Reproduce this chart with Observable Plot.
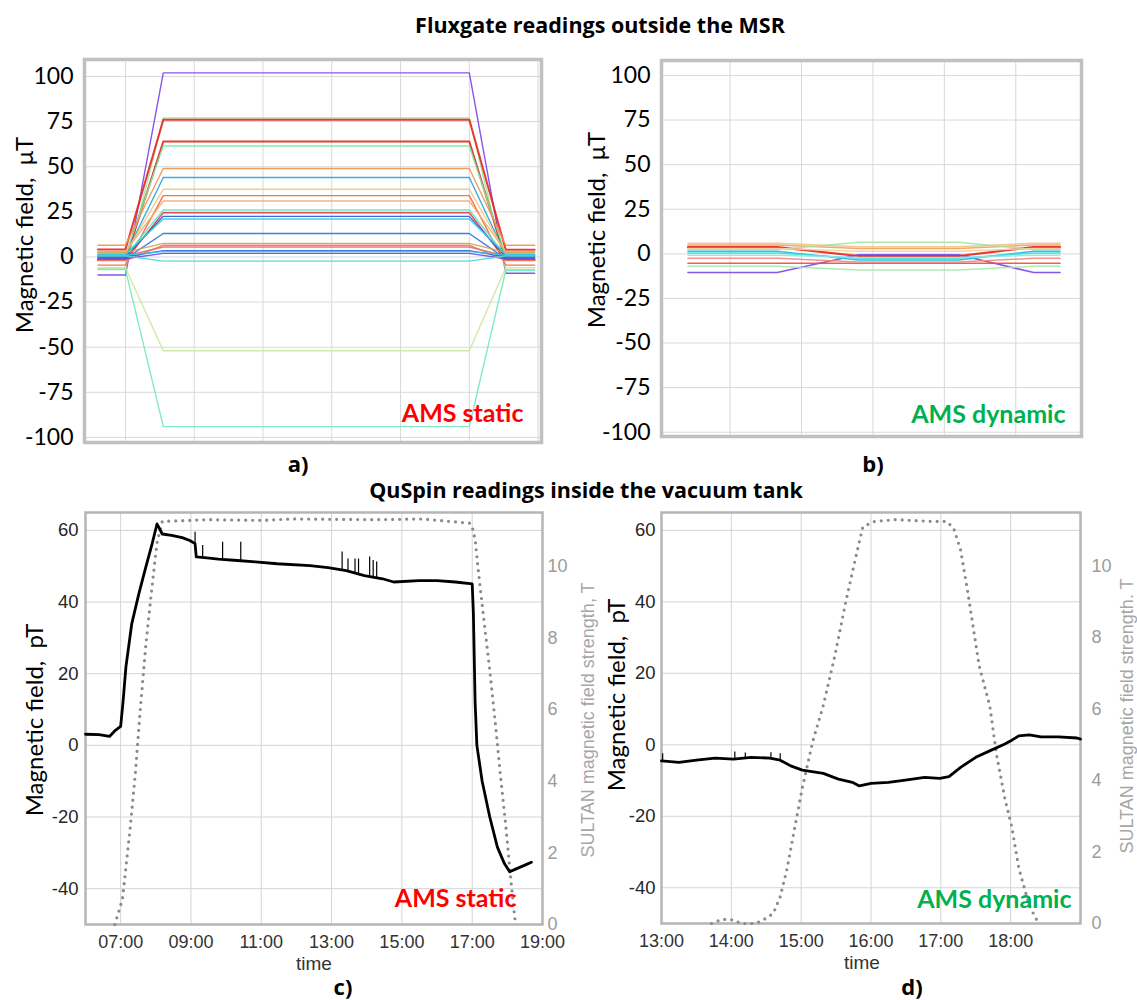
<!DOCTYPE html>
<html>
<head>
<meta charset="utf-8">
<script src="https://cdn.jsdelivr.net/npm/d3@7"></script>
<script src="https://cdn.jsdelivr.net/npm/@observablehq/plot@0.6"></script>
<style>
html,body{margin:0;padding:0;background:#fff;}
#fig{position:relative;width:1137px;height:1000px;background:#fff;overflow:hidden;}
.t{position:absolute;white-space:pre;transform:translate(-50%,-50%);line-height:1;}
.r{transform:translate(-50%,-50%) rotate(-90deg);}
.hd{font-family:"Open Sans";font-weight:700;font-size:21.5px;color:#000;}
.lt{font-family:"Open Sans";font-weight:700;font-size:22px;color:#000;}
.yt{font-family:Lato;font-size:24px;color:#000;}
.st{font-family:"Liberation Sans";font-size:18px;color:#a6a6a6;}
.p{position:absolute;}
</style>
</head>
<body>
<div id="fig">
  <div class="t hd" style="left:600px;top:25px">Fluxgate readings outside the MSR</div>
  <div class="t hd" style="left:586px;top:490px">QuSpin readings inside the vacuum tank</div>
  <div class="t yt r" style="left:24px;top:235px">Magnetic field,  μT</div>
  <div class="t yt r" style="left:596px;top:230px">Magnetic field,  μT</div>
  <div class="t yt r" style="left:34px;top:720px">Magnetic field,  pT</div>
  <div class="t yt r" style="left:616px;top:695px">Magnetic field,  pT</div>
  <div class="t st r" style="left:588px;top:720px">SULTAN magnetic field strength, T</div>
  <div class="t st r" style="left:1127px;top:716px">SULTAN magnetic field strength. T</div>
  <div class="t lt" style="left:298px;top:463px">a)</div>
  <div class="t lt" style="left:873px;top:463px">b)</div>
  <div class="t lt" style="left:343px;top:986px">c)</div>
  <div class="t lt" style="left:912px;top:986px">d)</div>
  <div class="p" id="pa" style="left:0px;top:50px"></div>
  <div class="p" id="pb" style="left:570px;top:50px"></div>
  <div class="p" id="pc" style="left:0px;top:500px"></div>
  <div class="p" id="pd" style="left:570px;top:500px"></div>
</div>
<script>
// ================= DATA =================
// Fluxgate (µT) tick values
const ticksFlux = [-100, -75, -50, -25, 0, 25, 50, 75, 100];

// Panel a (AMS static): run phases in grid units (before, ramp-up start, plateau start, plateau end, ramp-down end, end)
const knotsA = [0.6, 1.0, 1.55, 6.0, 6.53, 6.95];
const preA  = [-10, -6.5, 4.2, -1.5, 1.0, 6.5, 1.0, 2.0, -4.5, 3.0, 0.5, -1.8, 0.0, 1.5, -1.0, 2.5, -2.0, 0.5, 0.0, 1.0, -1.0, 0.5, -6.0, -7.0];
const flatA = [102, 77, 76, 64, 61.5, 49, 44, 37.5, 34, 31, 26, 24.5, 22.5, 21, 13, 7.5, 6.5, 5.5, 3.5, 3.0, 2.0, -2.3, -52, -94];
const postA = [-9, -7, 4.0, -1.5, 1.0, 6.5, 1.0, 2.0, -4.5, 3.0, 0.5, -1.8, 0.0, 1.5, -1.0, 2.5, -2.0, 0.5, 0.0, 1.0, -1.0, 0.5, -6.0, -7.5];
const colorsA = ["#7a45e6","#9be89b","#e8231f","#e0281e","#7ce8a6","#f0944a","#1fa7df","#f2c585","#f0663a","#f2ad6a","#5fe3c8","#e23a3a","#2f55dd","#2ccfe0","#2f6fdc","#c8a94e","#ee7a55","#e66a6a","#2a62d6","#36bfe6","#6a4bde","#46d9d4","#c9e89a","#74e8bf"];

// Panel b (AMS dynamic): phases (before, transition start, middle start, middle end, transition end, end)
const knotsB = [0.41, 1.66, 2.8, 4.2, 5.25, 5.62];
const leftB  = [-10.5, 3.8, -5.2, 6.0, 5.0, 2.5, -7.0, 1.5, 0.5, -0.8, -2.5, 3.0];
const midB   = [-0.5, -1.2, -5.2, 4.0, 3.0, 6.5, -9.0, -3.5, -2.5, -2.0, -4.5, 1.5];
const rightB = [-10.5, 3.8, -5.2, 6.0, 5.0, 2.5, -7.0, 1.5, 0.5, -0.8, -2.5, 3.0];
const colorsB = ["#7a45e6","#e8231f","#ef4a3a","#f2c08a","#f0a060","#9ee89e","#a6eaa6","#22b8e6","#3fded0","#8fe6ea","#f08a80","#f5d29a"];

// QuSpin (pT) and SULTAN (T) ticks
const ticksQ = [-40, -20, 0, 20, 40, 60];
const ticksSultan = [0, 2, 4, 6, 8, 10];

// Panel c (AMS static)
const timeC  = ["06:00","06:23","06:41","06:51","07:00","07:04","07:09","07:19","07:31","07:43","07:53","08:02","08:11","08:27","08:45","08:58","09:07","09:09","09:23","09:47","10:19","10:50","11:27","12:23","12:54","13:25","13:56","14:27","14:46","15:29","16:00","16:31","17:00","17:02","17:05","17:08","17:17","17:30","17:43","17:55","18:04","18:16","18:29","18:41"];
const fieldC = [3.1, 3.0, 2.5, 4.2, 5.3, 12, 21.9, 34, 42.3, 49.8, 55.8, 61.8, 59, 58.6, 58, 57.2, 56.3, 52.6, 52.4, 52, 51.6, 51.2, 50.7, 50.2, 49.6, 48.8, 47.4, 46.5, 45.6, 46, 46, 45.6, 45.1, 37, 12, 0, -10, -20, -28.4, -33, -35.3, -34.4, -33.5, -32.6];
const spikeTimeC = ["09:07","09:20","09:54","10:25","13:18","13:28","13:40","13:46","14:05","14:11","14:17"];
const spikeLowC  = [56.3, 52.5, 52, 51.6, 49, 48.8, 48.2, 48, 47.2, 47, 46.8];
const spikeHighC = [59.5, 55.8, 56.7, 56.7, 54, 52, 52, 52, 52.6, 51.6, 51.2];
const sultanTimeC = ["06:50","07:03","07:09","07:16","07:25","07:34","07:43","07:53","08:02","08:11","09:29","11:02","11:52","14:14","15:35","16:56","17:00","17:05","17:11","17:20","17:30","17:39","17:48","17:58","18:07","18:14"];
const sultanC = [0, 0.7, 1.6, 2.65, 4.2, 6.1, 7.8, 9.35, 10.65, 11.25, 11.3, 11.28, 11.32, 11.3, 11.32, 11.2, 11.1, 10.75, 9.8, 8.5, 7.1, 5.7, 4.2, 2.65, 1.07, 0];

// Panel d (AMS dynamic)
const timeD  = ["13:00","13:15","13:30","13:46","14:02","14:17","14:33","14:42","14:51","15:01","15:19","15:32","15:44","15:50","16:00","16:15","16:31","16:46","16:59","17:07","17:17","17:30","17:42","17:55","18:01","18:07","18:16","18:26","18:41","18:57","19:00"];
const fieldD = [-4.5, -4.9, -4.3, -3.7, -4.0, -3.5, -3.7, -4.3, -5.9, -7.1, -8.0, -9.6, -10.5, -11.5, -10.8, -10.5, -9.8, -9.1, -9.4, -8.9, -6.3, -3.5, -1.7, 0.2, 1.3, 2.5, 2.8, 2.2, 2.2, 1.9, 1.6];
const spikeTimeD = ["13:01","14:03","14:12","14:34","14:42"];
const spikeLowD  = [-4.5, -4.0, -3.7, -3.7, -4.3];
const spikeHighD = [-2.5, -2.0, -2.3, -2.2, -2.5];
const sultanTimeD = ["13:43","13:52","14:02","14:08","14:20","14:26","14:36","14:42","14:48","14:54","15:01","15:10","15:19","15:29","15:38","15:47","15:53","16:03","16:21","16:53","17:05","17:11","17:17","17:23","17:33","17:42","17:48","17:55","18:01","18:07","18:16","18:24"];
const sultanD = [0, 0.12, 0.1, 0, 0, 0.07, 0.28, 0.75, 1.55, 2.6, 3.8, 5.1, 6.1, 7.5, 8.95, 10.26, 11.1, 11.25, 11.3, 11.25, 11.25, 11.06, 10.45, 9.3, 7.2, 6.1, 4.7, 3.5, 2.7, 1.55, 0.5, 0];

// ================= HELPERS =================
const toH = s => { const [h, m] = s.split(":").map(Number); return h + m / 60; };
const fmtH = d => String(Math.floor(d)).padStart(2, "0") + ":00";
// SULTAN axis (right) shares the frame with the QuSpin axis: 0 T ↔ -50 pT, 11.5 T ↔ 65 pT
const sultanToQ = T => T * 10 - 50;
const qToSultan = v => Math.round((v + 50) / 10);

function fluxPanel(o) {
  const marks = [
    Plot.gridY({ticks: ticksFlux, stroke: "#d9d9d9", strokeOpacity: 1}),
    Plot.gridX({ticks: o.gridX, stroke: "#d9d9d9", strokeOpacity: 1}),
    Plot.frame({stroke: "#c0c0c0", strokeWidth: 3.5}),
    Plot.axisY({ticks: ticksFlux, tickSize: 0, tickPadding: o.pad, tickFormat: d => String(d), label: null,
                fontSize: 23, fontFamily: "Lato", color: "#000"})
  ];
  o.levels[0].forEach((_, i) => {
    const vals = [o.levels[0][i], o.levels[0][i], o.levels[1][i], o.levels[1][i], o.levels[2][i], o.levels[2][i]];
    const pts = o.knots.map((k, j) => ({x: k, y: vals[j]}));
    marks.push(Plot.line(pts, {x: "x", y: "y", stroke: o.colors[i], strokeWidth: o.widths(i), strokeOpacity: 0.9}));
  });
  marks.push(Plot.text([o.label], {frameAnchor: "bottom-right", textAnchor: "end", lineAnchor: "middle",
    dx: o.labelDx, dy: o.labelDy, fill: o.labelColor, fontSize: 25, fontWeight: 700, fontFamily: "Lato"}));
  return Plot.plot({
    width: o.width, height: o.height,
    marginLeft: o.ml, marginRight: o.mr, marginTop: o.mt, marginBottom: o.mb,
    x: {domain: o.xDomain, axis: null},
    y: {domain: o.yDomain, label: null},
    style: {background: "transparent", overflow: "visible", fontFamily: "Lato"},
    marks
  });
}

function qPanel(o) {
  const field = o.time.map((t, i) => ({t: toH(t), v: o.field[i]}));
  const sultan = o.sTime.map((t, i) => ({t: toH(t), T: o.sultan[i]}));
  const spikes = o.spT.map((t, i) => ({t: toH(t), lo: o.spLo[i], hi: o.spHi[i]}));
  return Plot.plot({
    width: o.width, height: o.height,
    marginLeft: o.ml, marginRight: o.mr, marginTop: o.mt, marginBottom: o.mb,
    x: {domain: o.xDomain, label: null},
    y: {domain: [-50, 65], label: null},
    style: {background: "transparent", overflow: "visible", fontFamily: "Liberation Sans"},
    marks: [
      Plot.gridX({ticks: o.gridX, stroke: "#d4d4d4", strokeOpacity: 1}),
      Plot.gridY({ticks: ticksQ, stroke: "#d4d4d4", strokeOpacity: 1}),
      Plot.frame({stroke: "#b5b5b5", strokeWidth: 2.5}),
      Plot.axisY({ticks: ticksQ, tickSize: 0, tickPadding: o.padL, tickFormat: d => String(d), label: null,
                  fontSize: 18.5, fontFamily: "Liberation Sans", color: "#262626"}),
      Plot.axisY({anchor: "right", ticks: ticksSultan.map(sultanToQ), tickFormat: qToSultan, tickSize: 0,
                  tickPadding: o.padR, label: null, fontSize: 18, fontFamily: "Liberation Sans", color: "#9c9c9c"}),
      Plot.axisX({ticks: o.xTicks, tickFormat: fmtH, tickSize: 0, tickPadding: 11, label: null,
                  fontSize: 18, fontFamily: "Liberation Sans", color: "#333"}),
      Plot.line(sultan, {x: "t", y: d => sultanToQ(d.T), stroke: "#8a8a8a", strokeWidth: 3.2,
                         strokeDasharray: "0 7", strokeLinecap: "round"}),
      Plot.line(field, {x: "t", y: "v", stroke: "#000", strokeWidth: 2.8}),
      Plot.ruleX(spikes, {x: "t", y1: "lo", y2: "hi", stroke: "#000", strokeWidth: 1.2}),
      Plot.text([o.label], {frameAnchor: "bottom-right", textAnchor: "end", lineAnchor: "middle",
        dx: o.labelDx, dy: o.labelDy, fill: o.labelColor, fontSize: 25, fontWeight: 700, fontFamily: "Lato"}),
      Plot.text(["time"], {frameAnchor: "bottom", lineAnchor: "middle", dx: o.timeDx, dy: 39,
        fill: "#333", fontSize: 19, fontFamily: "Liberation Sans"})
    ]
  });
}

// ================= PANELS =================
document.getElementById("pa").appendChild(fluxPanel({
  width: 560, height: 400, ml: 84, mr: 19, mt: 9, mb: 8,
  xDomain: [0.404, 7.05], yDomain: [-102.8, 109.4], gridX: [1, 2, 3, 4, 5, 6, 7], pad: 11,
  knots: knotsA, levels: [preA, flatA, postA], colors: colorsA,
  widths: i => (colorsA[i] === "#e8231f" || colorsA[i] === "#e0281e") ? 2 : 1.4,
  label: "AMS static", labelColor: "#ff0000", labelDx: -18, labelDy: -29
}));

document.getElementById("pb").appendChild(fluxPanel({
  width: 560, height: 400, ml: 91, mr: 49, mt: 10, mb: 14,
  xDomain: [0.04, 5.92], yDomain: [-102.4, 108.4], gridX: [1, 2, 3, 4, 5], pad: 11,
  knots: knotsB, levels: [leftB, midB, rightB], colors: colorsB,
  widths: i => (i === 1 ? 2.2 : 1.5),
  label: "AMS dynamic", labelColor: "#00b050", labelDx: -16, labelDy: -22
}));

document.getElementById("pc").appendChild(qPanel({
  width: 570, height: 490, ml: 85, mr: 28, mt: 12, mb: 66,
  xDomain: [6, 19], gridX: [7, 9, 11, 13, 15, 17, 19], xTicks: [7, 9, 11, 13, 15, 17, 19],
  padL: 7, padR: 5,
  time: timeC, field: fieldC, sTime: sultanTimeC, sultan: sultanC,
  spT: spikeTimeC, spLo: spikeLowC, spHi: spikeHighC,
  label: "AMS static", labelColor: "#ff0000", labelDx: -26, labelDy: -26, timeDx: 0
}));

document.getElementById("pd").appendChild(qPanel({
  width: 567, height: 490, ml: 91, mr: 57, mt: 12, mb: 67,
  xDomain: [13, 19], gridX: [14, 15, 16, 17, 18], xTicks: [13, 14, 15, 16, 17, 18],
  padL: 6, padR: 11,
  time: timeD, field: fieldD, sTime: sultanTimeD, sultan: sultanD,
  spT: spikeTimeD, spLo: spikeLowD, spHi: spikeHighD,
  label: "AMS dynamic", labelColor: "#00b050", labelDx: -9, labelDy: -24, timeDx: -9
}));
</script>
</body>
</html>
